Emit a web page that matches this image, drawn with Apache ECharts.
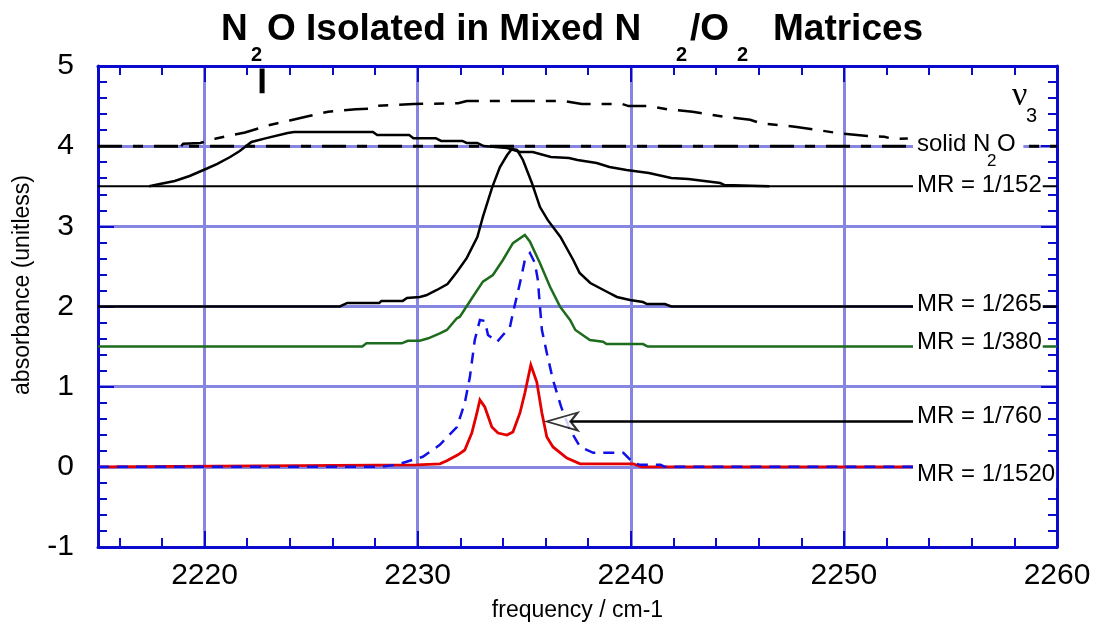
<!DOCTYPE html>
<html><head><meta charset="utf-8">
<script src="https://cdn.jsdelivr.net/npm/echarts@6/dist/echarts.min.js"></script>
<style>html,body{margin:0;padding:0;background:#fff}#c{width:1093px;height:627px}</style>
</head><body><div id="c"></div>
<script>
// ---------- data (frequency cm-1, absorbance) ----------
const xTickLabels = [2220, 2230, 2240, 2250, 2260];
const yTickLabels = [-1, 0, 1, 2, 3, 4, 5];

const solidBaseline = [[2215, 4.0], [2260, 4.0]];
const solidN2O = [[2218.9,4.0],[2219.0,4.03],[2219.8,4.04],[2220.6,4.10],[2221.9,4.17],[2223.0,4.26],[2224.0,4.32],[2224.8,4.37],[2225.8,4.43],[2227.1,4.46],[2227.9,4.47],[2228.1,4.505],[2229.8,4.526],[2231.9,4.535],[2232.3,4.563],[2236.9,4.563],[2237.7,4.526],[2239.6,4.526],[2239.9,4.50],[2240.85,4.50],[2241.7,4.46],[2242.9,4.43],[2243.6,4.40],[2244.3,4.37],[2245.6,4.33],[2246.1,4.285],[2246.9,4.264],[2247.7,4.243],[2248.8,4.20],[2249.8,4.16],[2251.1,4.127],[2251.9,4.118],[2252.3,4.09],[2253.0,4.095]];

const mr152Baseline = [[2215, 3.5], [2260, 3.5]];
const mr152 = [[2217.4,3.5],[2217.9,3.528],[2218.6,3.566],[2219.3,3.628],[2220.06,3.715],[2220.6,3.778],[2221.2,3.865],[2221.65,3.94],[2222.2,4.052],[2222.9,4.10],[2223.9,4.164],[2224.2,4.177],[2227.9,4.177],[2228.1,4.139],[2229.6,4.139],[2229.8,4.10],[2230.85,4.10],[2231.1,4.065],[2232.1,4.065],[2232.3,4.04],[2232.8,4.04],[2233.1,4.002],[2234.2,3.977],[2234.8,3.927],[2235.4,3.927],[2236.25,3.865],[2237.1,3.852],[2237.5,3.827],[2238.4,3.79],[2239.0,3.74],[2239.8,3.702],[2240.85,3.665],[2241.9,3.603],[2242.7,3.59],[2244.2,3.54],[2244.4,3.515],[2246.5,3.5]];

const mr265 = [[2215,2.0],[2226.35,2.0],[2226.7,2.044],[2228.2,2.044],[2228.3,2.07],[2229.3,2.07],[2229.5,2.106],[2230.1,2.119],[2230.4,2.14],[2230.9,2.206],[2231.4,2.28],[2231.84,2.43],[2232.3,2.603],[2232.8,2.867],[2233.06,3.117],[2233.5,3.49],[2233.86,3.74],[2234.2,3.89],[2234.42,3.965],[2234.66,3.953],[2234.94,3.828],[2235.36,3.54],[2235.74,3.24],[2236.1,3.08],[2236.7,2.867],[2237.3,2.58],[2237.6,2.418],[2238.1,2.293],[2238.9,2.181],[2239.35,2.119],[2239.96,2.081],[2240.57,2.056],[2240.76,2.031],[2241.6,2.031],[2241.9,2.0],[2260,2.0]];

const mr380 = [[2215,1.5],[2227.4,1.5],[2227.6,1.541],[2229.25,1.541],[2229.54,1.573],[2230.1,1.573],[2230.5,1.603],[2231.04,1.666],[2231.37,1.707],[2231.84,1.853],[2231.98,1.873],[2232.59,2.122],[2233.06,2.31],[2233.53,2.393],[2234.0,2.58],[2234.47,2.79],[2235.03,2.892],[2235.27,2.809],[2235.74,2.539],[2236.21,2.247],[2236.68,1.998],[2237.15,1.832],[2237.4,1.707],[2238.08,1.582],[2238.7,1.561],[2238.86,1.532],[2240.57,1.532],[2240.8,1.5],[2260,1.5]];

const mr760 = [[2215,0],[2228.2,0],[2229.0,0.025],[2230.24,0.125],[2231.04,0.274],[2231.84,0.497],[2232.21,0.796],[2232.45,1.12],[2232.68,1.582],[2232.92,1.832],[2233.15,1.82],[2233.3,1.645],[2233.72,1.557],[2234.33,1.744],[2234.47,1.919],[2234.8,2.293],[2235.03,2.58],[2235.27,2.667],[2235.5,2.543],[2235.64,2.33],[2235.74,1.994],[2235.83,1.707],[2236.06,1.42],[2236.35,1.083],[2236.73,0.75],[2237.15,0.46],[2237.62,0.25],[2238.24,0.175],[2239.65,0.175],[2240.12,0.05],[2240.45,0.025],[2241.4,0.025],[2241.6,0],[2260,0]];

const mr1520 = [[2215,0],[2229.96,0.025],[2231.04,0.037],[2231.37,0.075],[2231.89,0.15],[2232.21,0.21],[2232.54,0.422],[2232.78,0.672],[2232.92,0.835],[2233.15,0.747],[2233.48,0.497],[2233.77,0.422],[2234.19,0.397],[2234.47,0.435],[2234.8,0.672],[2235.03,0.921],[2235.31,1.27],[2235.59,1.058],[2235.83,0.672],[2236.06,0.372],[2236.35,0.248],[2237.0,0.11],[2237.62,0.037],[2240.12,0.037],[2240.5,0],[2260,0]];

const arrowShaft = [[2237.1, 0.565], [2253.3, 0.565]];
const arrowTip = [[2236.05, 0.565]];
const markerBar = [[2222.7, 4.97], [2222.7, 4.66]];

const seriesLabels = ['solid N', 'MR = 1/152', 'MR = 1/265', 'MR = 1/380', 'MR = 1/760', 'MR = 1/1520'];

// ---------- styles ----------
const FONT = '"Liberation Sans", Arial, Helvetica, sans-serif';
const AX = '#0b0bd0';
const GRID = '#8686e2';
const GREEN = '#1d6b1d';
const RED = '#e40000';
const BLUE = '#1010e8';
const DASH_LONG = [24, 11, 10, 11];

function line(data, color, width, type, z) {
  return { type: 'line', data: data, xAxisIndex: 0, yAxisIndex: 0, symbol: 'none', showSymbol: false,
    silent: true, animation: false, clip: true, z: z || 2,
    lineStyle: { color: color, width: width, type: type || 'solid', cap: 'butt', join: 'miter' } };
}

const majorX = (pos, labels, split) => ({
  type: 'value', min: 2215, max: 2260, minInterval: 10, maxInterval: 10, position: pos,
  axisLine: { show: true, onZero: false, lineStyle: { color: AX, width: 3 } },
  axisTick: { show: true, inside: true, length: 16, lineStyle: { color: AX, width: 2 } },
  minorTick: { show: false },
  axisLabel: labels ? { show: true, color: '#000', fontSize: 30, fontFamily: FONT, margin: 14, showMinLabel: false,
      formatter: v => xTickLabels.includes(Math.round(v)) && Math.abs(v - Math.round(v)) < 1e-6 ? String(Math.round(v)) : '' } : { show: false },
  splitLine: { show: split, lineStyle: { color: GRID, width: 3 } }
});
const minorX = (pos) => ({
  type: 'value', min: 2215, max: 2260, minInterval: 2, maxInterval: 2, position: pos,
  axisLine: { show: false, onZero: false },
  axisTick: { show: true, inside: true, length: 9, lineStyle: { color: AX, width: 2 } },
  axisLabel: { show: false }, splitLine: { show: false }
});
const yAx = (pos, labels, split) => ({
  type: 'value', min: -1, max: 5, interval: 1, position: pos,
  axisLine: { show: true, onZero: false, lineStyle: { color: AX, width: 3 } },
  axisTick: { show: true, inside: true, length: 16, lineStyle: { color: AX, width: 2 } },
  minorTick: { show: true, splitNumber: 5, length: 9, lineStyle: { color: AX, width: 2 } },
  axisLabel: labels ? { show: true, color: '#000', fontSize: 30, fontFamily: FONT, margin: 24,
      formatter: v => yTickLabels.includes(v) ? String(v) : '' } : { show: false },
  splitLine: { show: split, lineStyle: { color: GRID, width: 3 } }
});

const txt = (text, x, y, size, opts) => Object.assign({
  type: 'text', x: x, y: y, z: 100, silent: true,
  style: Object.assign({ text: text, font: (opts && opts.weight ? opts.weight + ' ' : '') + size + 'px ' + ((opts && opts.family) || FONT),
    fill: '#000', textAlign: (opts && opts.align) || 'left', textVerticalAlign: 'middle' }, (opts && opts.style) || {})
}, (opts && opts.el) || {});
const bgLabel = (text, x, y) => txt(text, x, y, 24, { style: { backgroundColor: '#fff', padding: [2, 1, 2, 4] } });

const chart = echarts.init(document.getElementById('c'), null, { renderer: 'canvas' });
chart.setOption({
  animation: false,
  backgroundColor: '#fff',
  grid: { left: 98, right: 36, top: 66, bottom: 80, containLabel: false, outerBoundsMode: 'none' },
  xAxis: [
    Object.assign(majorX('bottom', true, true), {
      name: 'frequency / cm-1', nameLocation: 'middle', nameGap: 52,
      nameTextStyle: { fontSize: 23, fontFamily: FONT, color: '#000' } }),
    minorX('bottom'),
    majorX('top', false, false),
    minorX('top')
  ],
  yAxis: [yAx('left', true, true), yAx('right', false, false)],
  series: [
    line(solidBaseline, '#000', 3, DASH_LONG, 3),
    line(solidN2O, '#000', 2.5, DASH_LONG, 3),
    line(mr152Baseline, '#000', 2, 'solid', 3),
    line(mr152, '#000', 2.5, 'solid', 3),
    line(mr265, '#000', 2.5, 'solid', 4),
    line(mr380, GREEN, 2.5, 'solid', 4),
    line(mr1520, RED, 2.8, 'solid', 5),
    line(mr760, BLUE, 2.5, [11, 8], 6),
    line(arrowShaft, '#000', 2.5, 'solid', 7),
    {
      type: 'scatter', data: arrowTip, xAxisIndex: 0, yAxisIndex: 0, silent: true, animation: false, z: 8,
      symbol: 'path://M0,9L31,0L24,9L31,18Z', symbolSize: [31, 18], symbolOffset: ['50%', 0],
      itemStyle: { color: '#fff', borderColor: '#000', borderWidth: 2 }
    },
    line(markerBar, '#000', 5, 'solid', 7)
  ],
  graphic: [
    // title
    txt('N', 221, 30, 37, { weight: 'bold' }),
    txt('2', 251, 55, 20, { weight: 'bold' }),
    txt('O Isolated in Mixed N', 267, 30, 37, { weight: 'bold' }),
    txt('2', 676, 55, 20, { weight: 'bold' }),
    txt('/O', 690, 30, 37, { weight: 'bold' }),
    txt('2', 737, 55, 20, { weight: 'bold' }),
    txt('Matrices', 773, 30, 37, { weight: 'bold' }),
    // y axis title
    txt('absorbance (unitless)', 23, 285, 23, { align: 'center', el: { rotation: Math.PI / 2 } }),
    // nu 3
    txt('\u03bd', 1012, 96, 34, { family: '"Liberation Serif", "DejaVu Serif", serif' }),
    txt('3', 1026, 116, 20),
    // series labels
    txt(seriesLabels[0], 913, 144, 24, { style: { backgroundColor: '#fff', padding: [2, 33, 2, 4] } }),
    txt('2', 987, 161, 17),
    txt('O', 997, 144, 24),
    bgLabel(seriesLabels[1], 913, 185),
    bgLabel(seriesLabels[2], 913, 304),
    bgLabel(seriesLabels[3], 913, 342),
    bgLabel(seriesLabels[4], 913, 416),
    bgLabel(seriesLabels[5], 913, 474)
  ]
});
</script></body></html>
